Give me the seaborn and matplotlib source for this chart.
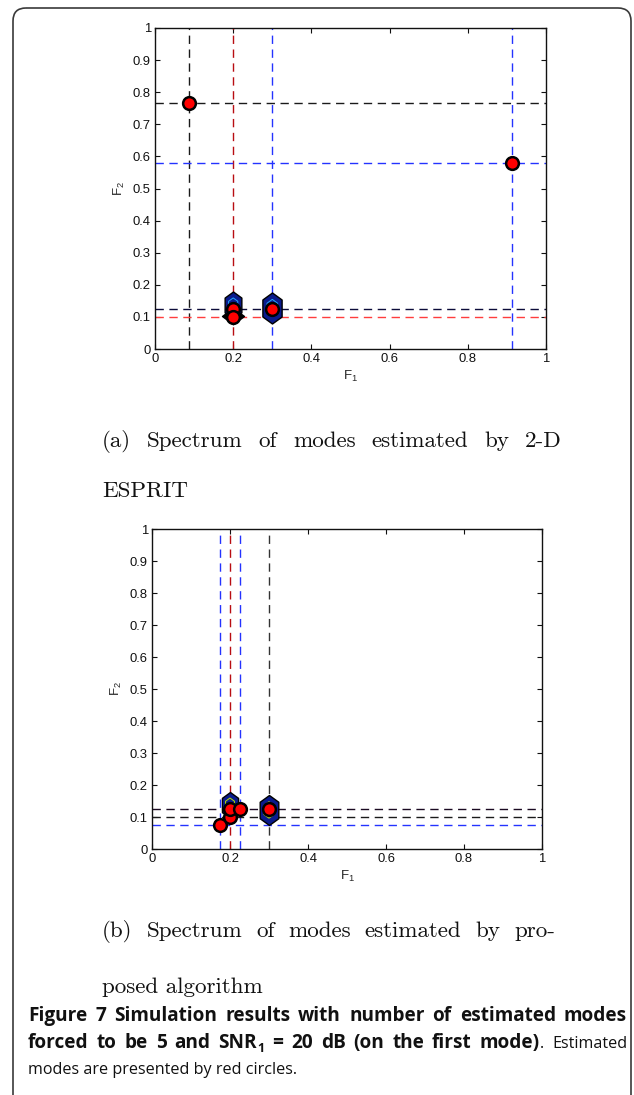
import numpy as np
import pandas as pd
import matplotlib
matplotlib.use("Agg")
import matplotlib.pyplot as plt
import seaborn as sns
from matplotlib.patches import FancyBboxPatch, Rectangle
from matplotlib.path import Path
from matplotlib.markers import MarkerStyle

# ---------------- data ----------------
# (a) 2-D ESPRIT
a_vline_f1 = [0.086, 0.2, 0.3, 0.914]
a_hline_f2 = [0.765, 0.578, 0.125, 0.1]
a_est_f1 = [0.086, 0.914, 0.2, 0.2, 0.3]
a_est_f2 = [0.765, 0.578, 0.125, 0.1, 0.125]
a_blob_f1 = [0.2, 0.3]
a_blob_f2 = [0.136, 0.128]
a_knot_f1 = [0.2]
a_knot_f2 = [0.103]

# (b) proposed algorithm
b_vline_f1 = [0.175, 0.2, 0.225, 0.3]
b_hline_f2 = [0.125, 0.1, 0.075]
b_est_f1 = [0.175, 0.2, 0.2, 0.225, 0.3]
b_est_f2 = [0.075, 0.1, 0.125, 0.125, 0.125]
b_blob_f1 = [0.2, 0.3]
b_blob_f2 = [0.137, 0.122]

x_ticks = [0, 0.2, 0.4, 0.6, 0.8, 1]
x_ticklabels = ["0", "0.2", "0.4", "0.6", "0.8", "1"]
y_ticks = [0, 0.1, 0.2, 0.3, 0.4, 0.5, 0.6, 0.7, 0.8, 0.9, 1]
y_ticklabels = ["0", "0.1", "0.2", "0.3", "0.4", "0.5", "0.6", "0.7", "0.8", "0.9", "1"]

cap_a = ["(a)", "Spectrum", "of", "modes", "estimated", "by", "2-D"]
cap_a2 = "ESPRIT"
cap_b = ["(b)", "Spectrum", "of", "modes", "estimated", "by", "pro-"]
cap_b2 = "posed algorithm"
fig_l1 = "Figure 7 Simulation results with number of estimated modes"
fig_l2_bold = "forced to be 5 and SNR"
fig_l2_sub = "1"
fig_l2_bold2 = "= 20 dB (on the first mode)"
fig_l2_reg = ". Estimated"
fig_l3 = "modes are presented by red circles."

# ---------------- styles ----------------
a_vline_col = ["#1a1a1a", "#b80d12", "#2433ff", "#2433ff"]
a_hline_col = ["#1a1a1a", "#2433ff", "#0c0c3a", "#ff3d3d"]
b_vline_col = ["#2433ff", "#b80d12", "#2433ff", "#333333"]
b_hline_col = ["#1a0a22", "#1a1a1a", "#2433ff"]

sns.set_style("ticks")
plt.rcParams["font.family"] = ["Liberation Sans", "DejaVu Sans"]
plt.rcParams["mathtext.fontset"] = "custom"
plt.rcParams["mathtext.rm"] = "Liberation Sans"
plt.rcParams["mathtext.default"] = "rm"

W, H = 634, 1095
fig = plt.figure(figsize=(W / 100, H / 100), dpi=100)

bg = fig.add_axes([0, 0, 1, 1], zorder=-5)
bg.set_xlim(0, W)
bg.set_ylim(H, 0)
bg.axis("off")
frame = FancyBboxPatch((13, 8), 618, 1130, boxstyle="round,pad=0,rounding_size=13",
                       fill=False, edgecolor="#3a3a3a", linewidth=1.2)
bg.add_patch(frame)

hexv = [(0, 1), (0.62, 0.55), (0.62, -0.55), (0, -1), (-0.62, -0.55), (-0.62, 0.55), (0, 1)]
hex_marker = MarkerStyle(Path(hexv, closed=True))
diav = [(0, 0.75), (1, 0), (0, -0.75), (-1, 0), (0, 0.75)]
dia_marker = MarkerStyle(Path(diav, closed=True))


def px(h):  # pixel height -> scatter size (points^2)
    return (h * 0.72) ** 2


def setup(ax):
    ax.set_xlim(0, 1)
    ax.set_ylim(0, 1)
    ax.set_xticks(x_ticks)
    ax.set_xticklabels(x_ticklabels)
    ax.set_yticks(y_ticks)
    ax.set_yticklabels(y_ticklabels)
    ax.tick_params(direction="in", top=True, right=True, length=3.5, width=0.8,
                   labelsize=9.4, colors="#111111", pad=3)
    for s in ax.spines.values():
        s.set_visible(True)
        s.set_linewidth(1.0)
        s.set_color("#111111")
    ax.set_xlabel("F$_1$", fontsize=9.5, labelpad=3)
    ax.set_ylabel("F$_2$", fontsize=9.5, labelpad=4)
    ax.grid(False)


def dashed(ax, xs, cols, vertical):
    for v, c in zip(xs, cols):
        if vertical:
            ax.axvline(v, color=c, lw=1.0, dashes=(6, 4), zorder=2)
        else:
            ax.axhline(v, color=c, lw=1.0, dashes=(6, 4), zorder=2)


def blobs(ax, f1, f2, heights, inner_col):
    for x, y, h in zip(f1, f2, heights):
        ax.scatter([x], [y], marker=hex_marker, s=px(h), facecolor="#0a1a8c",
                   edgecolor="#000000", linewidth=1.0, zorder=3)
        ax.scatter([x], [y], marker=hex_marker, s=px(h * 0.55), facecolor="none",
                   edgecolor=inner_col, linewidth=0.7, zorder=3.1)


def estimates(ax, f1, f2):
    df = pd.DataFrame({"F1": f1, "F2": f2})
    sns.scatterplot(data=df, x="F1", y="F2", ax=ax, color="#ff0000", edgecolor="#000000",
                    s=84, linewidth=1.8, zorder=5, legend=False)


# ---- panel (a)
ax1 = fig.add_axes([155 / W, 1 - 349 / H, 391 / W, 321 / H])
dashed(ax1, a_vline_f1, a_vline_col, True)
dashed(ax1, a_hline_f2, a_hline_col, False)
blobs(ax1, a_blob_f1, a_blob_f2, [27, 31], "#22a8ff")
ax1.scatter(a_knot_f1, a_knot_f2, marker=dia_marker, s=px(22), facecolor="#000000",
            edgecolor="#000000", zorder=3.2)
estimates(ax1, a_est_f1, a_est_f2)
setup(ax1)

# ---- panel (b)
ax2 = fig.add_axes([152 / W, 1 - 849 / H, 390 / W, 320 / H])
dashed(ax2, b_vline_f1, b_vline_col, True)
dashed(ax2, b_hline_f2, b_hline_col, False)
blobs(ax2, b_blob_f1, b_blob_f2, [26, 30], "#b8e000")
estimates(ax2, b_est_f1, b_est_f2)
setup(ax2)

# ---------------- captions ----------------
fig.canvas.draw()
R = fig.canvas.get_renderer()


def width_of(t):
    return t.get_window_extent(R).width


def place_tokens(tokens, x0, x1, y, clip=None):
    """tokens: list of lists of (text, kwargs, dy) pieces glued together; justified."""
    built = []
    for tok in tokens:
        parts = []
        for txt, kw, dy in tok:
            t = bg.text(0, y + dy, txt, va="baseline", ha="left", **kw)
            if clip is not None:
                t.set_clip_path(clip)
            parts.append((t, width_of(t)))
        built.append(parts)
    tw = [sum(w for _, w in p) for p in built]
    g = (x1 - x0 - sum(tw)) / (len(built) - 1)
    x = x0
    for parts, w in zip(built, tw):
        xx = x
        for t, pw in parts:
            t.set_x(xx)
            xx += pw
        x += w + g


def words(s, kw):
    return [[(w, kw, 0)] for w in s.split()]


# serif (LaTeX) sub-captions
serif = dict(family="cmr10", fontsize=16.6, color="#111111")
clipA = Rectangle((0, 0), 553, H, transform=bg.transData)
place_tokens([[(w, serif, 0)] for w in cap_a], 102, 562, 447, clip=clipA)
bg.text(102, 497, cap_a2, va="baseline", **serif)
place_tokens([[(w, serif, 0)] for w in cap_b], 102, 555, 937)
clipB = Rectangle((0, 0), W, 996, transform=bg.transData)
tb = bg.text(102, 993, cap_b2, va="baseline", **serif)
tb.set_clip_path(clipB)

# figure caption (sans)
sans = "Open Sans"
fs_reg = 11.6
fs_bold = 13.7
bold = dict(family=sans, fontsize=fs_bold, fontweight="bold", color="#111111")
bsub = dict(family=sans, fontsize=fs_bold * 0.66, fontweight="bold", color="#111111")
reg = dict(family=sans, fontsize=fs_reg, color="#111111")

place_tokens(words(fig_l1, bold), 28, 627, 1021)

l2 = words(fig_l2_bold, bold)
l2[-1] = [(l2[-1][0][0], bold, 0), (fig_l2_sub, bsub, 4)]
l2 += words(fig_l2_bold2, bold)
reg_words = fig_l2_reg.split()
l2[-1] = l2[-1] + [(reg_words[0], reg, 0)]
l2 += [[(w, reg, 0)] for w in reg_words[1:]]
place_tokens(l2, 28, 627, 1048)

bg.text(28, 1074, fig_l3, va="baseline", **reg)

fig.savefig("out.png", dpi=100)
